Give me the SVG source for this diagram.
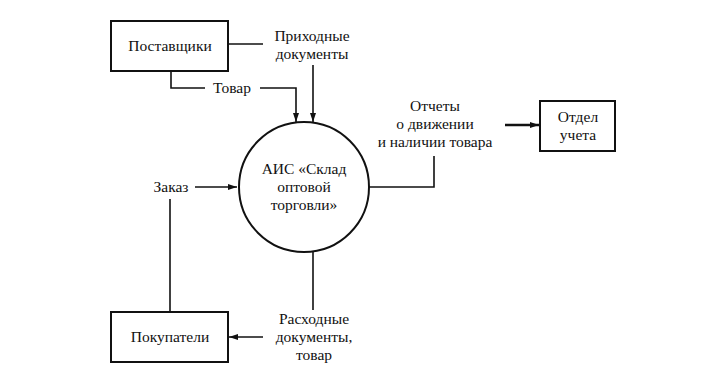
<svg xmlns="http://www.w3.org/2000/svg" width="709" height="380" viewBox="0 0 709 380">
<style>
text{font-family:"Liberation Serif","Times New Roman","DejaVu Serif",serif;font-size:15.5px;fill:#111;text-anchor:middle}
.box{fill:#fff;stroke:#111;stroke-width:2}
.ln{fill:none;stroke:#111;stroke-width:1.6}
.thick{fill:none;stroke:#111;stroke-width:2.6}
</style>
<defs>
<marker id="ah" markerWidth="10" markerHeight="8" refX="9" refY="4" orient="auto" markerUnits="userSpaceOnUse">
<path d="M0,1 L9,4 L0,7 Z" fill="#111"/>
</marker>
</defs>
<rect width="709" height="380" fill="#fff"/>
<g id="connectors">
<path class="ln" d="M228,44 H263"/>
<path class="ln" d="M313,65 V122" marker-end="url(#ah)"/>
<path class="ln" d="M171,71 V88 H205"/>
<path class="ln" d="M260,88 H296 V122" marker-end="url(#ah)"/>
<path class="ln" d="M369,187 H434 V156"/>
<path class="thick" d="M505,125 H539" marker-end="url(#ah)"/>
<path class="ln" d="M195,187 H237" marker-end="url(#ah)"/>
<path class="ln" d="M170,199 V312"/>
<path class="ln" d="M313,251 V310"/>
<path class="ln" d="M263,337 H229" marker-end="url(#ah)"/>
</g>
<g id="labels">
<text x="312" y="41">Приходные</text>
<text x="312" y="59">документы</text>
<text x="232" y="93">Товар</text>
<text x="435" y="111">Отчеты</text>
<text x="435" y="129">о движении</text>
<text x="435" y="147">и наличии товара</text>
<text x="171" y="192">Заказ</text>
<text x="314" y="324">Расходные</text>
<text x="314" y="342">документы,</text>
<text x="314" y="360">товар</text>
</g>
<g id="suppliers">
<rect class="box" x="111" y="21" width="117" height="50"/>
<text x="170" y="51">Поставщики</text>
</g>
<g id="ais">
<circle class="box" cx="304" cy="187" r="65"/>
<text x="304" y="174">АИС «Склад</text>
<text x="304" y="192">оптовой</text>
<text x="304" y="210">торговли»</text>
</g>
<g id="accounting">
<rect class="box" x="540" y="101" width="75" height="50"/>
<text x="578" y="122">Отдел</text>
<text x="578" y="140">учета</text>
</g>
<g id="buyers">
<rect class="box" x="111" y="312" width="117" height="50"/>
<text x="170" y="342">Покупатели</text>
</g>
</svg>
